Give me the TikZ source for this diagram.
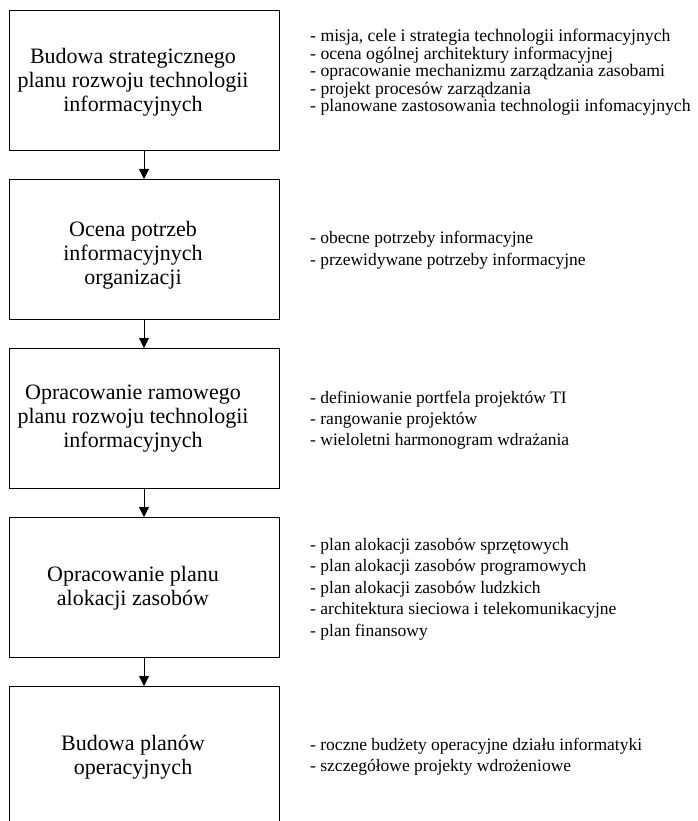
\documentclass[tikz,border=0pt]{standalone}
\usepackage{fontspec}
\setmainfont{Liberation Serif}
\usetikzlibrary{arrows.meta}

\begin{document}
\begin{tikzpicture}[
  x=1pt, y=1pt,
  stepbox/.style={draw=black, line width=1pt, minimum width=270pt, minimum height=140pt, inner sep=0pt},
  steptext/.style={align=center, inner sep=0pt, font=\fontsize{22}{24}\selectfont},
  notes/.style={align=left, anchor=west, inner sep=0pt, font=\fontsize{17.5}{21}\selectfont},
  flow/.style={line width=0.8pt, draw=black, -{Triangle[width=10pt,length=10pt]}}
]
  \useasboundingbox (0,0) rectangle (697,-821);

  % Prostokąty kolejnych etapów
  \node[stepbox] (b1) at (144,-80.5) {};
  \node[stepbox] (b2) at (144,-249.5) {};
  \node[stepbox] (b3) at (144,-418.5) {};
  \node[stepbox] (b4) at (144,-587.5) {};
  \node[stepbox] (b5) at (144,-756.5) {};

  % Nazwy etapów
  \node[steptext] (t1) at (133,-82) {Budowa strategicznego\\planu rozwoju technologii\\informacyjnych};
  \node[steptext] (t2) at (133,-255) {Ocena potrzeb\\informacyjnych\\organizacji};
  \node[steptext] (t3) at (133,-419) {Opracowanie ramowego\\planu rozwoju technologii\\informacyjnych};
  \node[steptext] (t4) at (133,-588) {Opracowanie planu\\alokacji zasobów};
  \node[steptext] (t5) at (133,-757) {Budowa planów\\operacyjnych};

  % Opisy po prawej stronie
  \node[notes, font=\fontsize{17.7}{17.5}\selectfont] (n1) at (310,-72.5) {- misja, cele i strategia technologii informacyjnych\\- ocena ogólnej architektury informacyjnej\\- opracowanie mechanizmu zarządzania zasobami\\- projekt procesów zarządzania\\- planowane zastosowania technologii infomacyjnych};
  \node[notes, font=\fontsize{17.5}{22}\selectfont] (n2) at (310,-250.5) {- obecne potrzeby informacyjne\\- przewidywane potrzeby informacyjne};
  \node[notes] (n3) at (310,-420) {- definiowanie portfela projektów TI\\- rangowanie projektów\\- wieloletni harmonogram wdrażania};
  \node[notes, font=\fontsize{17.5}{21.5}\selectfont] (n4) at (310,-589) {- plan alokacji zasobów sprzętowych\\- plan alokacji zasobów programowych\\- plan alokacji zasobów ludzkich\\- architektura sieciowa i telekomunikacyjne\\- plan finansowy};
  \node[notes] (n5) at (310,-756.5) {- roczne budżety operacyjne działu informatyki\\- szczegółowe projekty wdrożeniowe};

  % Strzałki między etapami
  \draw[flow] (b1) -- (b2);
  \draw[flow] (b2) -- (b3);
  \draw[flow] (b3) -- (b4);
  \draw[flow] (b4) -- (b5);

\end{tikzpicture}
\end{document}
